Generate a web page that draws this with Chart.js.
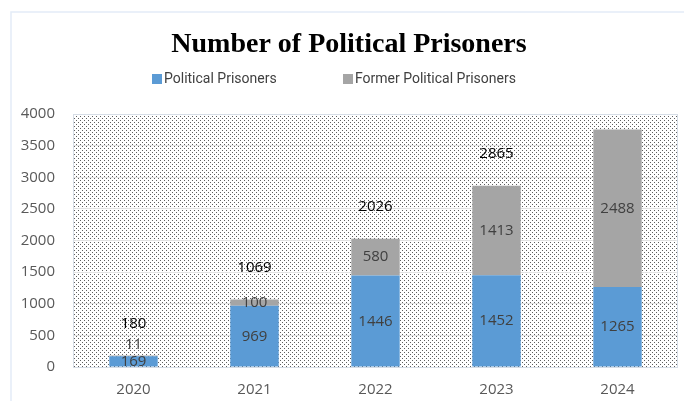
<!DOCTYPE html>
<html>
<head>
<meta charset="utf-8">
<script src="https://cdn.jsdelivr.net/npm/chart.js@4.4.1/dist/chart.umd.min.js"></script>
<style>
  html, body { margin: 0; padding: 0; background: #fff; }
  #wrap { width: 684px; height: 401px; position: relative; }
</style>
</head>
<body>
<div id="wrap"><canvas id="chart" width="684" height="401"></canvas></div>
<script>
const years = ['2020', '2021', '2022', '2023', '2024'];
const current = [169, 969, 1446, 1452, 1265];
const former = [11, 100, 580, 1413, 2488];
const totalLabels = ['180', '1069', '2026', '2865', null];
const yTicks = [0, 500, 1000, 1500, 2000, 2500, 3000, 3500, 4000];

const BLUE = '#5b9bd5';
const GREY = '#a5a5a5';
const labelFont = '15px "Open Sans", sans-serif';

// dotted fill like the excel plot area
function makePattern(ctx) {
    const c = document.createElement('canvas');
    c.width = 4; c.height = 4;
    const p = c.getContext('2d');
    p.fillStyle = '#ffffff';
    p.fillRect(0, 0, 4, 4);
    p.fillStyle = '#5e5e5e';
    p.fillRect(0, 0, 1, 1);
    p.fillRect(2, 2, 1, 1);
    return ctx.createPattern(c, 'repeat');
}

const backdrop = {
    id: 'backdrop',
    beforeDraw(chart) {
        const { ctx, chartArea: a } = chart;
        ctx.save();
        // faint outer frame
        ctx.strokeStyle = '#e3ecf7';
        ctx.lineWidth = 1.5;
        ctx.beginPath();
        ctx.moveTo(11, 401);
        ctx.lineTo(11, 12);
        ctx.lineTo(684, 12);
        ctx.stroke();
        ctx.fillStyle = makePattern(ctx);
        ctx.fillRect(a.left, a.top, a.right - a.left, a.bottom - a.top);
        ctx.restore();
    },
    afterDraw(chart) {
        const { ctx, chartArea: a } = chart;
        ctx.save();
        ctx.strokeStyle = '#d6dde6';
        ctx.lineWidth = 1;
        ctx.strokeRect(a.left + 0.5, a.top + 0.5, a.right - a.left - 1, a.bottom - a.top);
        ctx.restore();
    }
};

// title + legend drawn by hand so they sit where the original has them
const header = {
    id: 'header',
    afterDraw(chart) {
        const ctx = chart.ctx;
        ctx.save();
        ctx.fillStyle = '#000';
        ctx.font = 'bold 28px "Liberation Serif", serif';
        ctx.textAlign = 'center';
        ctx.textBaseline = 'middle';
        ctx.fillText('Number of Political Prisoners', 349, 45);

        ctx.font = '14px Roboto, sans-serif';
        ctx.textAlign = 'left';
        const items = [['Political Prisoners', BLUE, 152], ['Former Political Prisoners', GREY, 343]];
        items.forEach(([txt, col, x]) => {
            ctx.fillStyle = col;
            ctx.fillRect(x, 74, 10, 10);
            ctx.fillStyle = '#404040';
            ctx.fillText(txt, x + 12, 79);
        });
        ctx.restore();
    }
};

const valueLabels = {
    id: 'valueLabels',
    afterDatasetsDraw(chart) {
        const ctx = chart.ctx;
        const y = chart.scales.y;
        ctx.save();
        ctx.font = labelFont;
        ctx.textAlign = 'center';
        ctx.textBaseline = 'middle';
        years.forEach((yr, i) => {
            const x = chart.getDatasetMeta(0).data[i].x;
            let prevY = null;
            let base = 0;
            [current, former].forEach(series => {
                const v = series[i];
                let cy = (y.getPixelForValue(base) + y.getPixelForValue(base + v)) / 2;
                if (prevY !== null) cy = Math.min(cy, prevY - 17);
                ctx.fillStyle = '#404040';
                ctx.fillText(String(v), x, cy);
                prevY = cy;
                base += v;
            });
            if (totalLabels[i]) {
                ctx.fillStyle = '#000';
                ctx.fillText(totalLabels[i], x, y.getPixelForValue(base) - 32);
            }
        });
        ctx.restore();
    }
};

new Chart(document.getElementById('chart'), {
    type: 'bar',
    data: {
        labels: years,
        datasets: [
            { label: 'Political Prisoners', data: current, backgroundColor: BLUE },
            { label: 'Former Political Prisoners', data: former, backgroundColor: GREY }
        ]
    },
    options: {
        responsive: false,
        animation: false,
        events: [],
        layout: { padding: { top: 114, right: 6, left: 0, bottom: 0 } },
        datasets: { bar: { categoryPercentage: 1, barPercentage: 0.4 } },
        plugins: { legend: { display: false }, title: { display: false }, tooltip: { enabled: false } },
        scales: {
            x: {
                stacked: true,
                grid: { display: false, drawTicks: false },
                border: { display: false },
                ticks: { color: '#595959', font: { family: '"Open Sans", sans-serif', size: 15 }, padding: 14 },
                afterFit(s) { s.height = 34; }
            },
            y: {
                stacked: true,
                min: 0,
                max: 4000,
                afterBuildTicks(s) { s.ticks = yTicks.map(v => ({ value: v })); },
                grid: { color: '#e2e2e2', drawTicks: false },
                border: { display: false },
                ticks: {
                    color: '#595959',
                    font: { family: '"Open Sans", sans-serif', size: 15 },
                    padding: 18,
                    callback: v => String(v)
                },
                afterFit(s) { s.width = 73; }
            }
        }
    },
    plugins: [backdrop, header, valueLabels]
});
</script>
</body>
</html>
